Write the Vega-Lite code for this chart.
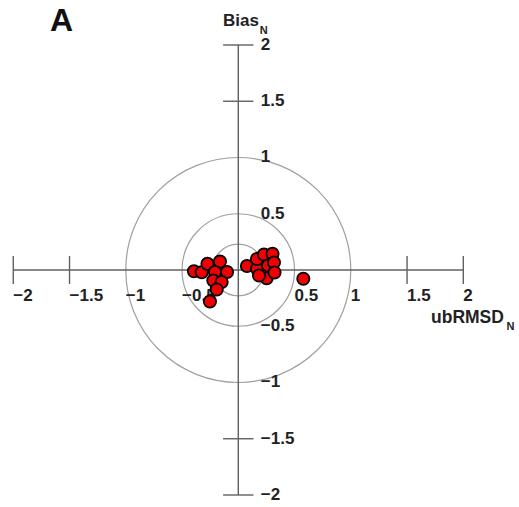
{
  "$schema": "https://vega.github.io/schema/vega-lite/v6.json",
  "width": 519,
  "height": 507,
  "autosize": {"type": "fit", "contains": "padding"},
  "padding": 0,
  "background": "white",
  "config": {"view": {"stroke": null}},
  "datasets": {
    "rings": [{"r": 0.23}, {"r": 0.5}, {"r": 1}],
    "xticks": [{"v": -2}, {"v": -1.5}, {"v": 1.5}, {"v": 2}],
    "yticks": [{"v": -2}, {"v": -1.5}, {"v": 1.5}, {"v": 2}],
    "xlabels": [
      {"v": -2, "t": "−2"}, {"v": -1.5, "t": "−1.5"}, {"v": -1, "t": "−1"}, {"v": -0.5, "t": "−0.5"},
      {"v": 0.5, "t": "0.5"}, {"v": 1, "t": "1"}, {"v": 1.5, "t": "1.5"}, {"v": 2, "t": "2"}
    ],
    "ylabels": [
      {"v": 2, "t": "2"}, {"v": 1.5, "t": "1.5"}, {"v": 1, "t": "1"}, {"v": 0.5, "t": "0.5"},
      {"v": -0.5, "t": "−0.5"}, {"v": -1, "t": "−1"}, {"v": -1.5, "t": "−1.5"}, {"v": -2, "t": "−2"}
    ],
    "pts": [
      {"ubrmsd": -0.394, "bias": -0.011},
      {"ubrmsd": -0.325, "bias": -0.02},
      {"ubrmsd": -0.274, "bias": 0.055},
      {"ubrmsd": -0.163, "bias": 0.076},
      {"ubrmsd": -0.207, "bias": -0.018},
      {"ubrmsd": -0.1, "bias": -0.018},
      {"ubrmsd": -0.222, "bias": -0.093},
      {"ubrmsd": -0.148, "bias": -0.107},
      {"ubrmsd": -0.192, "bias": -0.173},
      {"ubrmsd": -0.252, "bias": -0.28},
      {"ubrmsd": 0.077, "bias": 0.036},
      {"ubrmsd": 0.166, "bias": 0.011},
      {"ubrmsd": 0.166, "bias": 0.098},
      {"ubrmsd": 0.228, "bias": 0.138},
      {"ubrmsd": 0.304, "bias": 0.144},
      {"ubrmsd": 0.264, "bias": 0.04},
      {"ubrmsd": 0.317, "bias": 0.067},
      {"ubrmsd": 0.252, "bias": -0.073},
      {"ubrmsd": 0.322, "bias": -0.022},
      {"ubrmsd": 0.184, "bias": -0.049},
      {"ubrmsd": 0.578, "bias": -0.078}
    ]
  },
  "layer": [
    {
      "data": {"name": "rings"},
      "mark": {"type": "point", "shape": "circle", "filled": false, "stroke": "#a0a0a0", "strokeWidth": 1.2, "opacity": 1},
      "encoding": {
        "x": {"datum": 0, "type": "quantitative", "scale": {"domain": [-2.118, 2.495], "nice": false, "zero": false}, "axis": null},
        "y": {"datum": 0, "type": "quantitative", "scale": {"domain": [-2.1067, 2.4], "nice": false, "zero": false}, "axis": null},
        "size": {"field": "r", "type": "quantitative", "scale": {"type": "pow", "exponent": 2, "domain": [0, 1], "range": [0, 50625], "zero": true}, "legend": null}
      }
    },
    {
      "data": {"values": [{}]},
      "mark": {"type": "rule", "color": "#606060", "strokeWidth": 1.4},
      "encoding": {
        "x": {"datum": -2, "type": "quantitative"},
        "x2": {"datum": 2},
        "y": {"datum": 0, "type": "quantitative"}
      }
    },
    {
      "data": {"values": [{}]},
      "mark": {"type": "rule", "color": "#606060", "strokeWidth": 1.4},
      "encoding": {
        "y": {"datum": -2, "type": "quantitative"},
        "y2": {"datum": 2},
        "x": {"datum": 0, "type": "quantitative"}
      }
    },
    {
      "data": {"name": "xticks"},
      "mark": {"type": "rule", "color": "#606060", "strokeWidth": 1.4},
      "encoding": {
        "x": {"field": "v", "type": "quantitative"},
        "y": {"datum": -0.125, "type": "quantitative"},
        "y2": {"datum": 0.125}
      }
    },
    {
      "data": {"name": "yticks"},
      "mark": {"type": "rule", "color": "#606060", "strokeWidth": 1.4},
      "encoding": {
        "y": {"field": "v", "type": "quantitative"},
        "x": {"datum": -0.135, "type": "quantitative"},
        "x2": {"datum": 0.135}
      }
    },
    {
      "data": {"name": "xlabels"},
      "mark": {"type": "text", "align": "left", "baseline": "middle", "font": "Liberation Sans", "fontSize": 17, "fontWeight": "bold", "color": "#222"},
      "encoding": {
        "x": {"field": "v", "type": "quantitative"},
        "y": {"datum": -0.227, "type": "quantitative"},
        "text": {"field": "t"}
      }
    },
    {
      "data": {"name": "ylabels"},
      "mark": {"type": "text", "align": "left", "baseline": "middle", "font": "Liberation Sans", "fontSize": 17, "fontWeight": "bold", "color": "#222"},
      "encoding": {
        "y": {"field": "v", "type": "quantitative"},
        "x": {"datum": 0.2, "type": "quantitative"},
        "text": {"field": "t"}
      }
    },
    {
      "data": {"values": [{"t": "ubRMSD"}]},
      "mark": {"type": "text", "align": "left", "baseline": "middle", "font": "Liberation Sans", "fontSize": 17.5, "fontWeight": "bold", "color": "#222"},
      "encoding": {
        "x": {"datum": 1.713, "type": "quantitative"},
        "y": {"datum": -0.43, "type": "quantitative"},
        "text": {"field": "t"}
      }
    },
    {
      "data": {"values": [{"t": "N"}]},
      "mark": {"type": "text", "align": "left", "baseline": "middle", "font": "Liberation Sans", "fontSize": 11, "fontWeight": "bold", "color": "#222"},
      "encoding": {
        "x": {"datum": 2.384, "type": "quantitative"},
        "y": {"datum": -0.505, "type": "quantitative"},
        "text": {"field": "t"}
      }
    },
    {
      "data": {"values": [{"t": "Bias"}]},
      "mark": {"type": "text", "align": "left", "baseline": "middle", "font": "Liberation Sans", "fontSize": 17, "fontWeight": "bold", "color": "#222"},
      "encoding": {
        "x": {"datum": -0.136, "type": "quantitative"},
        "y": {"datum": 2.209, "type": "quantitative"},
        "text": {"field": "t"}
      }
    },
    {
      "data": {"values": [{"t": "N"}]},
      "mark": {"type": "text", "align": "left", "baseline": "middle", "font": "Liberation Sans", "fontSize": 11, "fontWeight": "bold", "color": "#222"},
      "encoding": {
        "x": {"datum": 0.19, "type": "quantitative"},
        "y": {"datum": 2.12, "type": "quantitative"},
        "text": {"field": "t"}
      }
    },
    {
      "data": {"values": [{"t": "A"}]},
      "mark": {"type": "text", "align": "center", "baseline": "middle", "font": "Liberation Sans", "fontSize": 32, "fontWeight": "bold", "color": "#111"},
      "encoding": {
        "x": {"datum": -1.572, "type": "quantitative"},
        "y": {"datum": 2.209, "type": "quantitative"},
        "text": {"field": "t"}
      }
    },
    {
      "data": {"name": "pts"},
      "mark": {"type": "point", "shape": "circle", "filled": true, "fill": "#f00000", "stroke": "#000000", "strokeWidth": 1.8, "size": 150, "opacity": 1},
      "encoding": {
        "x": {"field": "ubrmsd", "type": "quantitative"},
        "y": {"field": "bias", "type": "quantitative"}
      }
    }
  ]
}
